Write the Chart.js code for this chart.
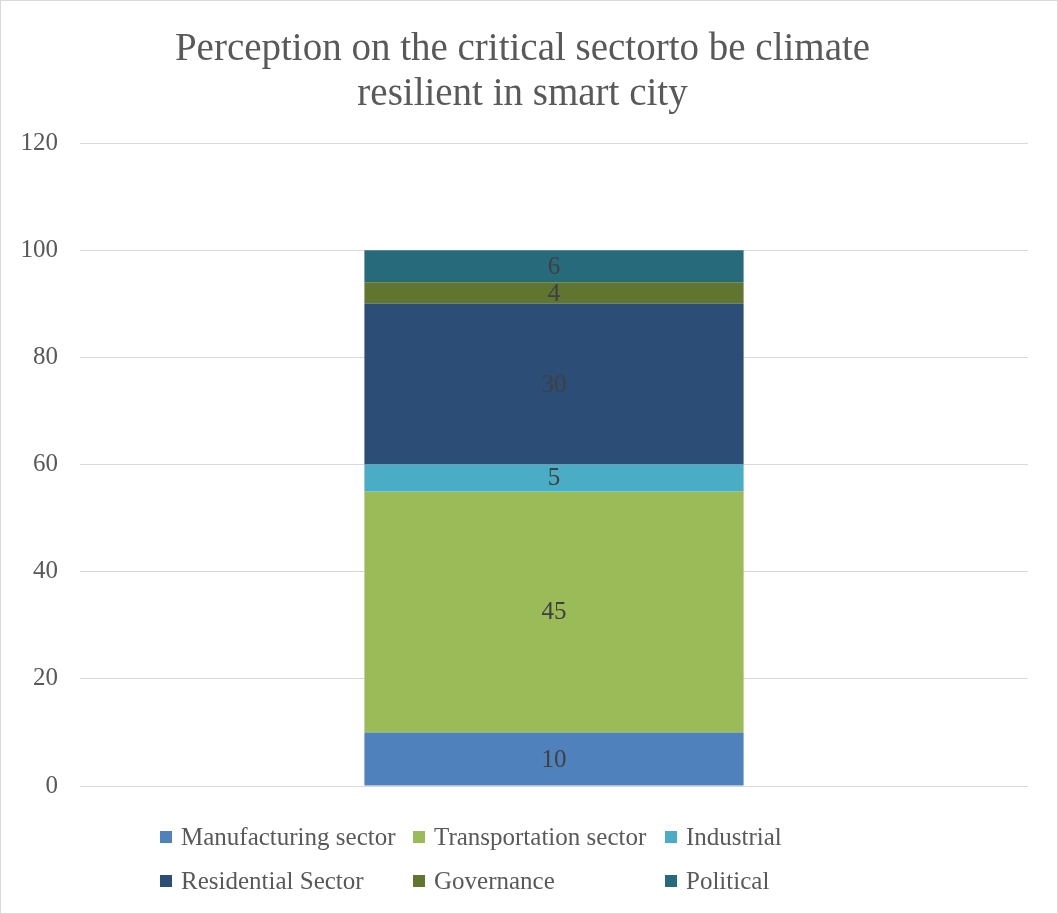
<!DOCTYPE html>
<html>
<head>
<meta charset="utf-8">
<script src="https://cdn.jsdelivr.net/npm/chart.js@4/dist/chart.umd.min.js"></script>
<style>
    html, body { margin: 0; padding: 0; background: #fff; }
    #frame { width: 1058px; height: 914px; box-sizing: border-box; border: 1px solid #d9d9d9; }
</style>
</head>
<body>
<div id="frame"><canvas id="chart" width="1056" height="912"></canvas></div>
<script>
'use strict';

const categories = [''];
const seriesNames = ['Manufacturing sector', 'Transportation sector', 'Industrial', 'Residential Sector', 'Governance', 'Political'];
const manufacturing = [10];
const transportation = [45];
const industrial = [5];
const residential = [30];
const governance = [4];
const political = [6];
const seriesColors = ['#4F81BD', '#9BBB59', '#4BACC6', '#2C4D75', '#5F7530', '#276A7C'];
const titleLines = ['Perception on the critical sectorto be climate', 'resilient in smart city'];

const FONT = '"Liberation Serif", "DejaVu Serif", serif';
const TEXT = '#595959';

const seriesValues = [manufacturing, transportation, industrial, residential, governance, political];

// value labels in the middle of each segment
const segmentLabels = {
    id: 'segmentLabels',
    afterDatasetsDraw(chart) {
        const ctx = chart.ctx;
        ctx.save();
        ctx.font = '25px ' + FONT;
        ctx.fillStyle = '#404040';
        ctx.textAlign = 'center';
        ctx.textBaseline = 'middle';
        chart.data.datasets.forEach(function (ds, i) {
            chart.getDatasetMeta(i).data.forEach(function (bar, j) {
                const p = bar.getProps(['x', 'y', 'base'], true);
                ctx.fillText(String(ds.data[j]), p.x, (p.y + p.base) / 2 + 1);
            });
        });
        ctx.restore();
    }
};

// legend laid out as a 3 column grid under the plot
const gridLegend = {
    id: 'gridLegend',
    afterDraw(chart) {
        const ctx = chart.ctx;
        const colX = [159, 412, 664];
        const rowY = [836, 880];
        ctx.save();
        ctx.font = '25px ' + FONT;
        ctx.textBaseline = 'middle';
        chart.data.datasets.forEach(function (ds, i) {
            const x = colX[i % 3];
            const y = rowY[Math.floor(i / 3)];
            ctx.fillStyle = ds.backgroundColor;
            ctx.fillRect(x, y - 6, 12, 12);
            ctx.fillStyle = TEXT;
            ctx.fillText(ds.label, x + 21, y + 1);
        });
        ctx.restore();
    }
};

new Chart(document.getElementById('chart').getContext('2d'), {
    type: 'bar',
    data: {
        labels: categories,
        datasets: seriesNames.map(function (name, i) {
            return {label: name, data: seriesValues[i], backgroundColor: seriesColors[i], borderWidth: 0};
        })
    },
    options: {
        responsive: false,
        animation: false,
        layout: {padding: {left: 16, right: 29, top: 18, bottom: 127}},
        datasets: {bar: {categoryPercentage: 1, barPercentage: 0.4}},
        scales: {
            x: {stacked: true, display: false},
            y: {
                stacked: true,
                min: 0,
                max: 120,
                ticks: {stepSize: 20, color: TEXT, font: {family: FONT, size: 25}, padding: 22},
                grid: {color: '#d9d9d9', lineWidth: 1, drawTicks: false},
                border: {display: false},
                afterFit: function (scale) { scale.width = 63; }
            }
        },
        plugins: {
            legend: {display: false},
            tooltip: {enabled: false},
            title: {
                display: true,
                text: titleLines,
                color: TEXT,
                font: {family: FONT, size: 39, weight: 'normal', lineHeight: 1.154},
                padding: {top: 8.5, bottom: 25.5}
            }
        }
    },
    plugins: [segmentLabels, gridLegend]
});
</script>
</body>
</html>
